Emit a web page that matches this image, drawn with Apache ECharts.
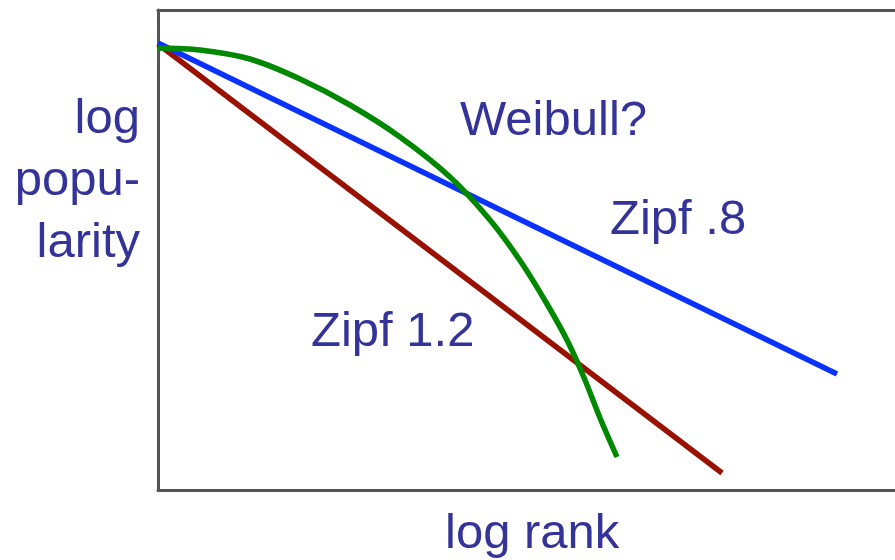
<!DOCTYPE html>
<html>
<head>
<meta charset="utf-8">
<script src="https://cdn.jsdelivr.net/npm/echarts@6/dist/echarts.min.js"></script>
<style>
  html, body { margin: 0; padding: 0; background: #fff; }
  #chart { width: 895px; height: 560px; }
</style>
</head>
<body>
<div id="chart"></div>
<script>
// data (x = log rank, y = log popularity, arbitrary units)
const zipf08 = [[0, 447], [679, 116]];
const zipf12 = [[0, 446], [564, 17]];
const weibull = [
  [0, 442], [42, 440], [92, 431], [142, 411], [192, 385], [242, 353],
  [292, 313], [332, 270], [363, 228], [389, 186], [410, 148],
  [427, 110], [442, 72], [459, 33]
];
const curveLabels = ['Weibull?', 'Zipf .8', 'Zipf 1.2'];
const xTitle = 'log rank';
const yTitle = 'log\npopu-\nlarity';

const textColor = '#333399';
const font = '49px "Liberation Sans", Arial, sans-serif';
const frame = { show: true, lineStyle: { color: '#555', width: 3 } };

const myChart = echarts.init(document.getElementById('chart'));

const option = {
  animation: false,
  grid: {
    left: 158,
    top: 10,
    right: 0,
    bottom: 70
  },
  xAxis: [
    {
      type: 'value',
      position: 'bottom',
      min: 0,
      max: 737,
      axisLine: frame,
      axisTick: { show: false },
      axisLabel: { show: false },
      splitLine: { show: false }
    },
    {
      type: 'value',
      position: 'top',
      min: 0,
      max: 737,
      axisLine: frame,
      axisTick: { show: false },
      axisLabel: { show: false },
      splitLine: { show: false }
    }
  ],
  yAxis: {
    type: 'value',
    min: 0,
    max: 480,
    axisLine: frame,
    axisTick: { show: false },
    axisLabel: { show: false },
    splitLine: { show: false }
  },
  series: [
    {
      name: 'Zipf 1.2',
      type: 'line',
      data: zipf12,
      showSymbol: false,
      lineStyle: { color: '#991100', width: 5.5 }
    },
    {
      name: 'Zipf .8',
      type: 'line',
      data: zipf08,
      showSymbol: false,
      lineStyle: { color: '#0a32ff', width: 5.5 }
    },
    {
      name: 'Weibull',
      type: 'line',
      data: weibull,
      smooth: 0.3,
      showSymbol: false,
      lineStyle: { color: '#008800', width: 5.5 }
    }
  ],
  graphic: [
    {
      type: 'text', x: 460, y: 121,
      style: { text: curveLabels[0], fill: textColor, font: font, textVerticalAlign: 'middle' }
    },
    {
      type: 'text', x: 610, y: 220,
      style: { text: curveLabels[1], fill: textColor, font: font, textVerticalAlign: 'middle' }
    },
    {
      type: 'text', x: 311, y: 332,
      style: { text: curveLabels[2], fill: textColor, font: font, textVerticalAlign: 'middle' }
    },
    {
      type: 'text', x: 445, y: 534,
      style: { text: xTitle, fill: textColor, font: font, textVerticalAlign: 'middle' }
    },
    {
      type: 'text', x: 140, y: 88,
      style: {
        text: yTitle, fill: textColor, font: font,
        textAlign: 'right', textVerticalAlign: 'top', lineHeight: 62
      }
    }
  ]
};

myChart.setOption(option);
</script>
</body>
</html>
